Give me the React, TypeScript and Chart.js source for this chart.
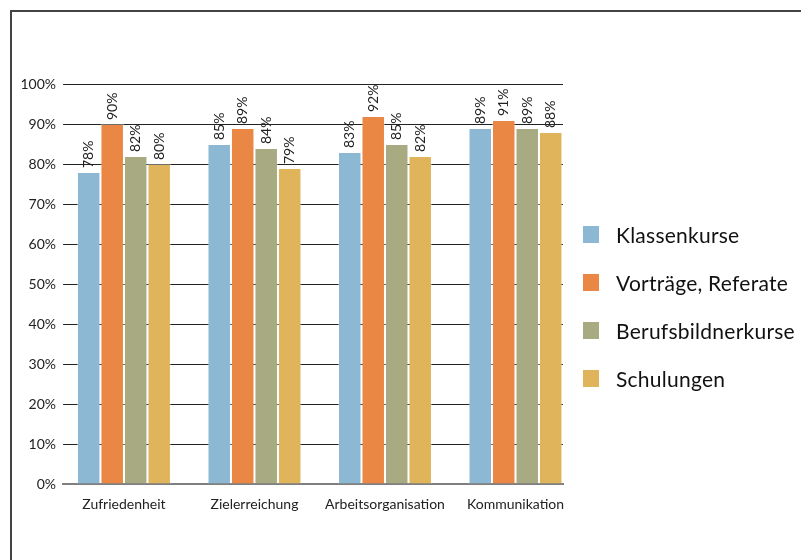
import React, { useEffect, useRef } from "react";
import { Chart, registerables } from "chart.js";

Chart.register(...registerables);

const categories = ["Zufriedenheit", "Zielerreichung", "Arbeitsorganisation", "Kommunikation"];
const seriesNames = ["Klassenkurse", "Vorträge, Referate", "Berufsbildnerkurse", "Schulungen"];
const klassenkurse = [78, 85, 83, 89];
const vortraege = [90, 89, 92, 91];
const berufsbildner = [82, 84, 85, 89];
const schulungen = [80, 79, 82, 88];
const seriesColors = ["#8db8d4", "#ea8744", "#a8ab81", "#e0b45b"];
const yTicks = [0, 10, 20, 30, 40, 50, 60, 70, 80, 90, 100];
const xTicks = [0, 1, 2, 3];

const FONT = "Lato, 'Noto Sans', sans-serif";

const labelPlugin = {
  id: "barLabels",
  afterDatasetsDraw(chart: any) {
    const ctx = chart.ctx;
    ctx.save();
    ctx.fillStyle = "#222";
    ctx.font = `14px ${FONT}`;
    ctx.textAlign = "left";
    ctx.textBaseline = "middle";
    chart.data.datasets.forEach((ds: any, i: number) => {
      const meta = chart.getDatasetMeta(i);
      meta.data.forEach((el: any, j: number) => {
        ctx.save();
        ctx.translate(el.x, el.y - 4);
        ctx.rotate(-Math.PI / 2);
        ctx.fillText(ds.data[j].y + "%", 0, 0);
        ctx.restore();
      });
    });
    ctx.restore();
  },
};

export default function App() {
  const ref = useRef<HTMLCanvasElement>(null);
  useEffect(() => {
    if (!ref.current) return;
    const seriesData = [klassenkurse, vortraege, berufsbildner, schulungen];
    const chart = new Chart(ref.current, {
      type: "bar",
      data: {
        datasets: seriesNames.map((name, i) => ({
          label: name,
          data: seriesData[i].map((v, k) => ({ x: k, y: v })),
          backgroundColor: seriesColors[i],
          borderColor: "rgba(255,255,255,0.35)",
          borderWidth: 1,
          categoryPercentage: 0.72,
          barPercentage: 1,
        })),
      },
      options: {
        responsive: false,
        animation: false,
        devicePixelRatio: 1,
        layout: { padding: { left: 0, right: 238, top: 84, bottom: 36 } },
        plugins: { legend: { display: false }, tooltip: { enabled: false } },
        scales: {
          x: {
            type: "linear",
            offset: false,
            min: -0.467,
            max: 3.364,
            afterBuildTicks: (s: any) => { s.ticks = xTicks.map((v) => ({ value: v })); },
            grid: { display: false, offset: false },
            border: { display: true, color: "#7f7f7f", width: 2 },
            ticks: {
              color: "#222",
              font: { family: FONT, size: 14 },
              padding: 4,
              maxRotation: 0,
              autoSkip: false,
              callback: (v: any) => categories[v] ?? "",
            },
            afterFit: (s: any) => { s.height = 40; },
          },
          y: {
            min: 0,
            max: 100,
            afterBuildTicks: (s: any) => { s.ticks = yTicks.map((v) => ({ value: v })); },
            grid: {
              color: (c: any) => (c.tick && c.tick.value === 0 ? "rgba(0,0,0,0)" : "#222"),
              lineWidth: 1,
              drawTicks: false,
            },
            border: { display: false },
            ticks: {
              color: "#222",
              font: { family: FONT, size: 14 },
              padding: 7,
              callback: (v: any) => v + "%",
            },
            afterFit: (s: any) => { s.width = 63; },
          },
        },
      },
      plugins: [labelPlugin],
    });
    return () => chart.destroy();
  }, []);

  return (
    <div style={{ position: "fixed", left: 0, top: 0, width: 801, height: 560, overflow: "hidden", background: "#fff" }}>
      <div style={{ position: "absolute", left: 10, top: 10, width: 900, height: 700, border: "2px solid #444", boxSizing: "border-box" }} />
      <canvas ref={ref} width={801} height={560} style={{ position: "absolute", left: 0, top: 0 }} />
      <div style={{ position: "absolute", left: 583, top: 210, fontFamily: FONT, fontSize: 21, letterSpacing: 0.25, color: "#111" }}>
        {seriesNames.map((n, i) => (
          <div key={n} style={{ display: "flex", alignItems: "center", height: 48 }}>
            <div style={{ width: 16, height: 17, background: seriesColors[i], marginRight: 17 }} />
            <span>{n}</span>
          </div>
        ))}
      </div>
    </div>
  );
}
